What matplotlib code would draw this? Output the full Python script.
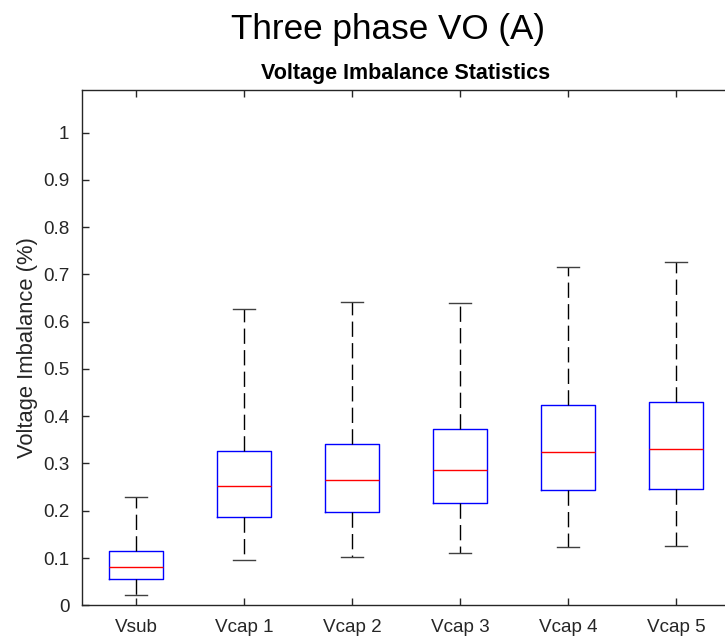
import matplotlib
matplotlib.use("Agg")
import matplotlib.pyplot as plt

categories = ["Vsub", "Vcap 1", "Vcap 2", "Vcap 3", "Vcap 4", "Vcap 5"]
whislo = [0.022, 0.096, 0.102, 0.110, 0.124, 0.126]
q1 = [0.056, 0.187, 0.197, 0.216, 0.244, 0.247]
med = [0.081, 0.252, 0.264, 0.287, 0.325, 0.330]
q3 = [0.114, 0.326, 0.342, 0.372, 0.423, 0.429]
whishi = [0.229, 0.626, 0.641, 0.639, 0.716, 0.726]
yticks = [0, 0.1, 0.2, 0.3, 0.4, 0.5, 0.6, 0.7, 0.8, 0.9, 1]
ytick_labels = ["0", "0.1", "0.2", "0.3", "0.4", "0.5", "0.6", "0.7", "0.8", "0.9", "1"]

plt.rcParams['font.family'] = ['Liberation Sans', 'DejaVu Sans']

fig = plt.figure(figsize=(7.25, 6.37), dpi=100)
ax = fig.add_axes([82/725, (637-605.3)/637, 648/725, (605.3-90)/637])

stats = []
for i, c in enumerate(categories):
    stats.append(dict(label=c, whislo=whislo[i], q1=q1[i], med=med[i],
                      q3=q3[i], whishi=whishi[i], fliers=[]))

axc = '#262626'
ax.bxp(stats, positions=range(1, len(categories) + 1), widths=0.5,
       capwidths=0.2, showfliers=False,
       boxprops=dict(color='#0000ff', linewidth=1.0),
       medianprops=dict(color='#ff0000', linewidth=1.0),
       whiskerprops=dict(color='black', linewidth=1.0, linestyle=(0, (11, 4.5))),
       capprops=dict(color='#404040', linewidth=1.0))

ax.set_xlim(0.5, 6.5)
ax.set_ylim(0, 1.09)
ax.set_yticks(yticks)
ax.set_yticklabels(ytick_labels)
ax.set_xticks(range(1, len(categories) + 1))
ax.set_xticklabels(categories)
ax.tick_params(direction='in', length=5, width=1, colors=axc, labelsize=13.6,
               top=True, right=False, pad=9)
ax.tick_params(axis='x', pad=10)
for s in ax.spines.values():
    s.set_color(axc)
    s.set_linewidth(1)

ax.set_ylabel("Voltage Imbalance (%)", fontsize=15.8, color=axc, labelpad=4)
ax.set_title("Voltage Imbalance Statistics", fontsize=15.5, fontweight='bold', pad=8)
fig.text(388/725, 1 - 29/637, "Three phase VO (A)", fontsize=25.3, ha='center', va='center')

fig.savefig("out.png", dpi=100)
